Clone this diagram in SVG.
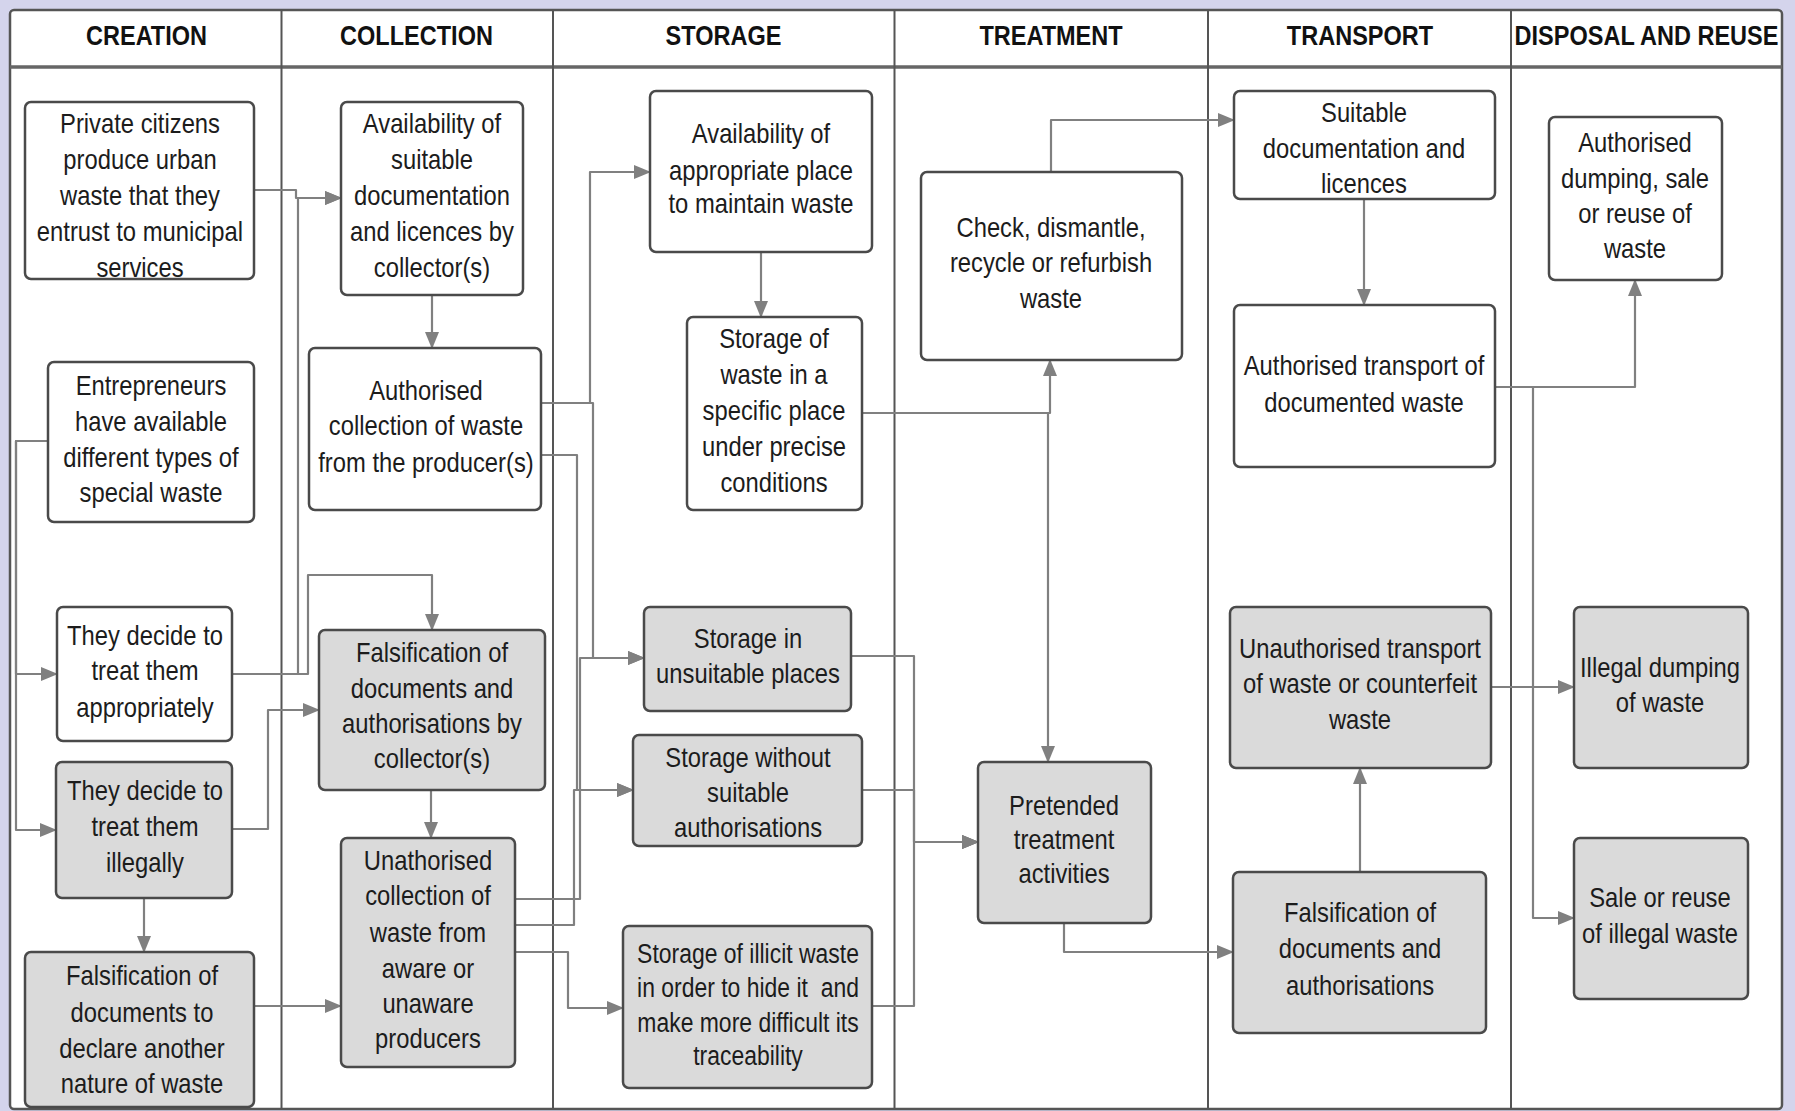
<svg xmlns="http://www.w3.org/2000/svg" width="1795" height="1111" viewBox="0 0 1795 1111">
<style>
.bg{fill:#d4d4ec}
.frame{fill:#ffffff;stroke:#555;stroke-width:2.5}
.div{stroke:#555;stroke-width:2;fill:none}
.hdrline{stroke:#666;stroke-width:3.5;fill:none}
.hd{font-family:"Liberation Sans",Arial,sans-serif;font-size:28px;font-weight:bold;fill:#111;text-anchor:middle}
.box{fill:#ffffff;stroke:#4a4a4a;stroke-width:2.5}
.gbox{fill:#dadada;stroke:#4a4a4a;stroke-width:2.5}
.t{font-family:"Liberation Sans",Arial,sans-serif;font-size:28px;fill:#1c1c1c;text-anchor:middle}
.ts{font-size:27px}
.c{fill:none;stroke:#808080;stroke-width:2.2;stroke-linejoin:round}
.ca{fill:none;stroke:#808080;stroke-width:2.2;stroke-linejoin:round;marker-end:url(#arr)}
</style>
<defs>
<marker id="arr" markerUnits="userSpaceOnUse" markerWidth="18" markerHeight="16" refX="16" refY="8" orient="auto">
<path d="M0,1 L17,8 L0,15 Z" fill="#808080"/>
</marker>
</defs>
<rect class="bg" x="0" y="0" width="1795" height="1111"/>
<g id="frame">
<rect class="frame" x="10" y="10" width="1772" height="1099" rx="4"/>
<line class="hdrline" x1="10" y1="67" x2="1782" y2="67"/>
<line class="div" x1="281.5" y1="10" x2="281.5" y2="1109"/>
<line class="div" x1="553" y1="10" x2="553" y2="1109"/>
<line class="div" x1="894.5" y1="10" x2="894.5" y2="1109"/>
<line class="div" x1="1208" y1="10" x2="1208" y2="1109"/>
<line class="div" x1="1511" y1="10" x2="1511" y2="1109"/>
</g>
<g id="headers">
<text class="hd" transform="translate(146.5,0) scale(.84,1)" x="0" y="45">CREATION</text>
<text class="hd" transform="translate(416.5,0) scale(.84,1)" x="0" y="45">COLLECTION</text>
<text class="hd" transform="translate(723.5,0) scale(.84,1)" x="0" y="45">STORAGE</text>
<text class="hd" transform="translate(1051,0) scale(.84,1)" x="0" y="45">TREATMENT</text>
<text class="hd" transform="translate(1360,0) scale(.84,1)" x="0" y="45">TRANSPORT</text>
<text class="hd" transform="translate(1646.5,0) scale(.84,1)" x="0" y="45">DISPOSAL AND REUSE</text>
</g>
<g id="connectors">
<path class="ca" d="M254,190 H296 V198 H341"/>
<path class="ca" d="M232,674 H298 V198 H341"/>
<path class="ca" d="M232,674 H308 V575 H432 V630"/>
<path class="ca" d="M48,441 H16 V674 H57"/>
<path class="ca" d="M48,441 H16 V830 H56"/>
<path class="ca" d="M232,829 H268 V710 H319"/>
<path class="ca" d="M144,898 V952"/>
<path class="ca" d="M254,1006 H341"/>
<path class="ca" d="M432,295 V348"/>
<path class="ca" d="M431,790 V838"/>
<path class="ca" d="M541,403 H590 V172 H650"/>
<path class="ca" d="M541,403 H593 V658 H644"/>
<path class="ca" d="M541,455 H577 V790 H633"/>
<path class="ca" d="M515,899 H580 V658 H644"/>
<path class="ca" d="M515,925 H574 V790 H633"/>
<path class="ca" d="M515,952 H568 V1008 H623"/>
<path class="ca" d="M761,252 V317"/>
<path class="ca" d="M862,413 H1050 V360"/>
<path class="ca" d="M862,413 H1048 V762"/>
<path class="ca" d="M1051,172 V120 H1234"/>
<path class="ca" d="M1364,199 V305"/>
<path class="ca" d="M1495,387 H1635 V280"/>
<path class="ca" d="M1495,387 H1533 V918 H1574"/>
<path class="ca" d="M851,656 H914 V842 H978"/>
<path class="ca" d="M862,790 H914 V842 H978"/>
<path class="ca" d="M872,1006 H914 V842 H978"/>
<path class="ca" d="M1064,923 V952 H1233"/>
<path class="ca" d="M1360,872 V768"/>
<path class="ca" d="M1491,687 H1574"/>
</g>
<g id="n-private">
<rect class="box" x="25" y="102" width="229" height="177" rx="6"/>
<text class="t" transform="translate(140,0) scale(.85,1)"><tspan x="0" y="133">Private citizens</tspan><tspan x="0" y="169">produce urban</tspan><tspan x="0" y="205">waste that they</tspan><tspan x="0" y="241">entrust to municipal</tspan><tspan x="0" y="277">services</tspan></text>
</g>
<g id="n-avail-coll">
<rect class="box" x="341" y="102" width="182" height="193" rx="6"/>
<text class="t" transform="translate(432,0) scale(.85,1)"><tspan x="0" y="133">Availability of</tspan><tspan x="0" y="169">suitable</tspan><tspan x="0" y="205">documentation</tspan><tspan x="0" y="241">and licences by</tspan><tspan x="0" y="277">collector(s)</tspan></text>
</g>
<g id="n-entre">
<rect class="box" x="48" y="362" width="206" height="160" rx="6"/>
<text class="t" transform="translate(151,0) scale(.85,1)"><tspan x="0" y="395">Entrepreneurs</tspan><tspan x="0" y="431">have available</tspan><tspan x="0" y="467">different types of</tspan><tspan x="0" y="502">special waste</tspan></text>
</g>
<g id="n-approp">
<rect class="box" x="57" y="607" width="175" height="134" rx="6"/>
<text class="t" transform="translate(145,0) scale(.85,1)"><tspan x="0" y="645">They decide to</tspan><tspan x="0" y="680">treat them</tspan><tspan x="0" y="717">appropriately</tspan></text>
</g>
<g id="n-illegal">
<rect class="gbox" x="56" y="762" width="176" height="136" rx="6"/>
<text class="t" transform="translate(145,0) scale(.85,1)"><tspan x="0" y="800">They decide to</tspan><tspan x="0" y="836">treat them</tspan><tspan x="0" y="872">illegally</tspan></text>
</g>
<g id="n-fals-declare">
<rect class="gbox" x="25" y="952" width="229" height="155" rx="6"/>
<text class="t" transform="translate(142,0) scale(.85,1)"><tspan x="0" y="985">Falsification of</tspan><tspan x="0" y="1022">documents to</tspan><tspan x="0" y="1058">declare another</tspan><tspan x="0" y="1093">nature of waste</tspan></text>
</g>
<g id="n-auth-coll">
<rect class="box" x="309" y="348" width="232" height="162" rx="6"/>
<text class="t" transform="translate(426,0) scale(.85,1)"><tspan x="0" y="400">Authorised</tspan><tspan x="0" y="435">collection of waste</tspan><tspan x="0" y="472">from the producer(s)</tspan></text>
</g>
<g id="n-fals-coll">
<rect class="gbox" x="319" y="630" width="226" height="160" rx="6"/>
<text class="t" transform="translate(432,0) scale(.85,1)"><tspan x="0" y="662">Falsification of</tspan><tspan x="0" y="698">documents and</tspan><tspan x="0" y="733">authorisations by</tspan><tspan x="0" y="768">collector(s)</tspan></text>
</g>
<g id="n-unauth-coll">
<rect class="gbox" x="341" y="838" width="174" height="229" rx="6"/>
<text class="t" transform="translate(428,0) scale(.85,1)"><tspan x="0" y="870">Unathorised</tspan><tspan x="0" y="905">collection of</tspan><tspan x="0" y="942">waste from</tspan><tspan x="0" y="978">aware or</tspan><tspan x="0" y="1013">unaware</tspan><tspan x="0" y="1048">producers</tspan></text>
</g>
<g id="n-avail-stor">
<rect class="box" x="650" y="91" width="222" height="161" rx="6"/>
<text class="t" transform="translate(761,0) scale(.85,1)"><tspan x="0" y="143">Availability of</tspan><tspan x="0" y="180">appropriate place</tspan><tspan x="0" y="213">to maintain waste</tspan></text>
</g>
<g id="n-stor-specific">
<rect class="box" x="687" y="317" width="175" height="193" rx="6"/>
<text class="t" transform="translate(774,0) scale(.85,1)"><tspan x="0" y="348">Storage of</tspan><tspan x="0" y="384">waste in a</tspan><tspan x="0" y="420">specific place</tspan><tspan x="0" y="456">under precise</tspan><tspan x="0" y="492">conditions</tspan></text>
</g>
<g id="n-stor-unsuitable">
<rect class="gbox" x="644" y="607" width="207" height="104" rx="6"/>
<text class="t" transform="translate(748,0) scale(.85,1)"><tspan x="0" y="648">Storage in</tspan><tspan x="0" y="683">unsuitable places</tspan></text>
</g>
<g id="n-stor-without">
<rect class="gbox" x="633" y="735" width="229" height="111" rx="6"/>
<text class="t" transform="translate(748,0) scale(.85,1)"><tspan x="0" y="767">Storage without</tspan><tspan x="0" y="802">suitable</tspan><tspan x="0" y="837">authorisations</tspan></text>
</g>
<g id="n-stor-illicit">
<rect class="gbox" x="623" y="926" width="249" height="162" rx="6"/>
<text class="t ts" transform="translate(748,0) scale(.85,1)" xml:space="preserve"><tspan x="0" y="963">Storage of illicit waste</tspan><tspan x="0" y="997">in order to hide it  and</tspan><tspan x="0" y="1032">make more difficult its</tspan><tspan x="0" y="1065">traceability</tspan></text>
</g>
<g id="n-check">
<rect class="box" x="921" y="172" width="261" height="188" rx="6"/>
<text class="t" transform="translate(1051,0) scale(.85,1)"><tspan x="0" y="237">Check, dismantle,</tspan><tspan x="0" y="272">recycle or refurbish</tspan><tspan x="0" y="308">waste</tspan></text>
</g>
<g id="n-pretended">
<rect class="gbox" x="978" y="762" width="173" height="161" rx="6"/>
<text class="t" transform="translate(1064,0) scale(.85,1)"><tspan x="0" y="815">Pretended</tspan><tspan x="0" y="849">treatment</tspan><tspan x="0" y="883">activities</tspan></text>
</g>
<g id="n-suitable-doc">
<rect class="box" x="1234" y="91" width="261" height="108" rx="6"/>
<text class="t" transform="translate(1364,0) scale(.85,1)"><tspan x="0" y="122">Suitable</tspan><tspan x="0" y="158">documentation and</tspan><tspan x="0" y="193">licences</tspan></text>
</g>
<g id="n-auth-transport">
<rect class="box" x="1234" y="305" width="261" height="162" rx="6"/>
<text class="t" transform="translate(1364,0) scale(.85,1)"><tspan x="0" y="375">Authorised transport of</tspan><tspan x="0" y="412">documented waste</tspan></text>
</g>
<g id="n-unauth-transport">
<rect class="gbox" x="1230" y="607" width="261" height="161" rx="6"/>
<text class="t" transform="translate(1360,0) scale(.85,1)"><tspan x="0" y="658">Unauthorised transport</tspan><tspan x="0" y="693">of waste or counterfeit</tspan><tspan x="0" y="729">waste</tspan></text>
</g>
<g id="n-fals-transport">
<rect class="gbox" x="1233" y="872" width="253" height="161" rx="6"/>
<text class="t" transform="translate(1360,0) scale(.85,1)"><tspan x="0" y="922">Falsification of</tspan><tspan x="0" y="958">documents and</tspan><tspan x="0" y="995">authorisations</tspan></text>
</g>
<g id="n-auth-dumping">
<rect class="box" x="1549" y="117" width="173" height="163" rx="6"/>
<text class="t" transform="translate(1635,0) scale(.85,1)"><tspan x="0" y="152">Authorised</tspan><tspan x="0" y="188">dumping, sale</tspan><tspan x="0" y="223">or reuse of</tspan><tspan x="0" y="258">waste</tspan></text>
</g>
<g id="n-illegal-dumping">
<rect class="gbox" x="1574" y="607" width="174" height="161" rx="6"/>
<text class="t" transform="translate(1660,0) scale(.85,1)"><tspan x="0" y="677">Illegal dumping</tspan><tspan x="0" y="712">of waste</tspan></text>
</g>
<g id="n-sale-reuse">
<rect class="gbox" x="1574" y="838" width="174" height="161" rx="6"/>
<text class="t" transform="translate(1660,0) scale(.85,1)"><tspan x="0" y="907">Sale or reuse</tspan><tspan x="0" y="943">of illegal waste</tspan></text>
</g>
</svg>
